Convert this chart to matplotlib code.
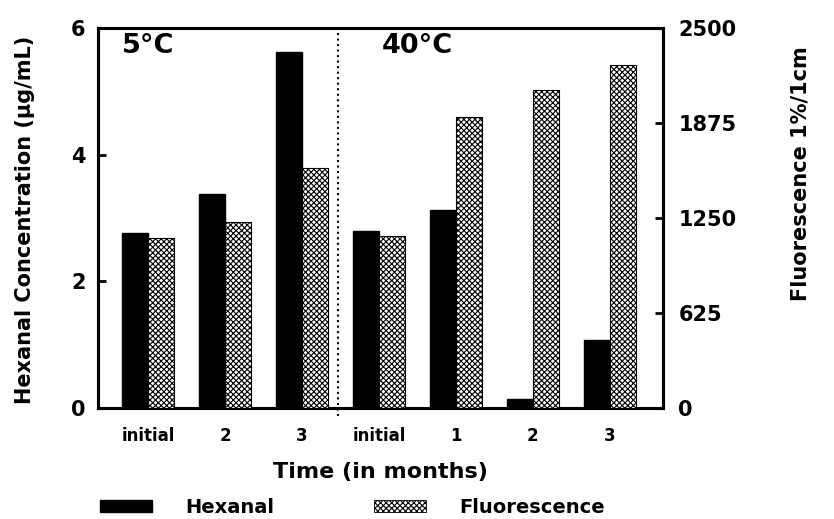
import numpy as np
import matplotlib
matplotlib.use("Agg")
import matplotlib.pyplot as plt
from matplotlib.patches import Patch

# data
labels = ["initial", "2", "3", "initial", "1", "2", "3"]
hexanal = [2.76, 3.38, 5.62, 2.79, 3.12, 0.14, 1.07]          # ug/mL
fluorescence = [1115, 1222, 1580, 1132, 1915, 2095, 2255]    # 1%/1cm

plt.rcParams['font.family'] = ['DejaVu Sans']
plt.rcParams['font.weight'] = 'bold'
plt.rcParams['hatch.linewidth'] = 0.8

fig = plt.figure(figsize=(8.34, 5.19), dpi=100)
ax = fig.add_axes([0.1175, 0.214, 0.6775, 0.732])
ax2 = ax.twinx()

x = np.arange(len(labels))
w = 0.335
ax.bar(x - w / 2, hexanal, w, color='black', edgecolor='black', zorder=3)
ax2.bar(x + w / 2, fluorescence, w, color='white', edgecolor='black',
        hatch='xxxxxx', linewidth=0.8, zorder=3)

ax.set_xlim(-0.65, 6.69)
ax.set_ylim(0, 6)
ax2.set_ylim(0, 2500)
ax.set_yticks([0, 2, 4, 6])
ax2.set_yticks([0, 625, 1250, 1875, 2500])
ax.set_xticks(x)
ax.set_xticklabels(labels, fontsize=12, fontweight='bold')
ax.tick_params(axis='x', length=0, pad=14)
ax.tick_params(axis='y', direction='in', length=6, width=2, labelsize=15, pad=9)
ax2.tick_params(axis='y', direction='in', length=6, width=2, labelsize=15, pad=11)
for a in (ax, ax2):
    for s in a.spines.values():
        s.set_linewidth(2.2)
    for t in a.get_yticklabels():
        t.set_fontweight('bold')

# divider between the two temperatures
ax.axvline(2.47, ymin=-0.02, ymax=1, color='black', linestyle=':', linewidth=1.5,
           clip_on=False, zorder=4)
ax.text(0.043, 0.987, "5°C", transform=ax.transAxes, fontsize=19.5,
        fontweight='bold', va='top')
ax.text(0.503, 0.987, "40°C", transform=ax.transAxes, fontsize=19.5,
        fontweight='bold', va='top')

ax.set_ylabel("Hexanal Concentration (µg/mL)", fontsize=15, fontweight='bold')
ax.yaxis.set_label_coords(-0.1115, 0.495)
ax2.set_ylabel("Fluorescence 1%/1cm", fontsize=15, fontweight='bold',
               rotation=90)
ax2.yaxis.set_label_coords(1.2248, 0.616)
ax.set_xlabel("Time (in months)", fontsize=16, fontweight='bold')
ax.xaxis.set_label_coords(0.5, -0.142)

handles = [Patch(facecolor='black', edgecolor='black', label='Hexanal'),
           Patch(facecolor='white', edgecolor='black', hatch='xxxxxx',
                 linewidth=0.6, label='Fluorescence')]
fig.legend(handles=handles, loc='lower left', bbox_to_anchor=(0.108, -0.014),
           ncol=2, frameon=False, prop={'size': 14, 'weight': 'bold'},
           handlelength=2.7, handleheight=0.55, handletextpad=1.7,
           columnspacing=5.1, borderpad=0)

fig.savefig("out.png", dpi=100)
